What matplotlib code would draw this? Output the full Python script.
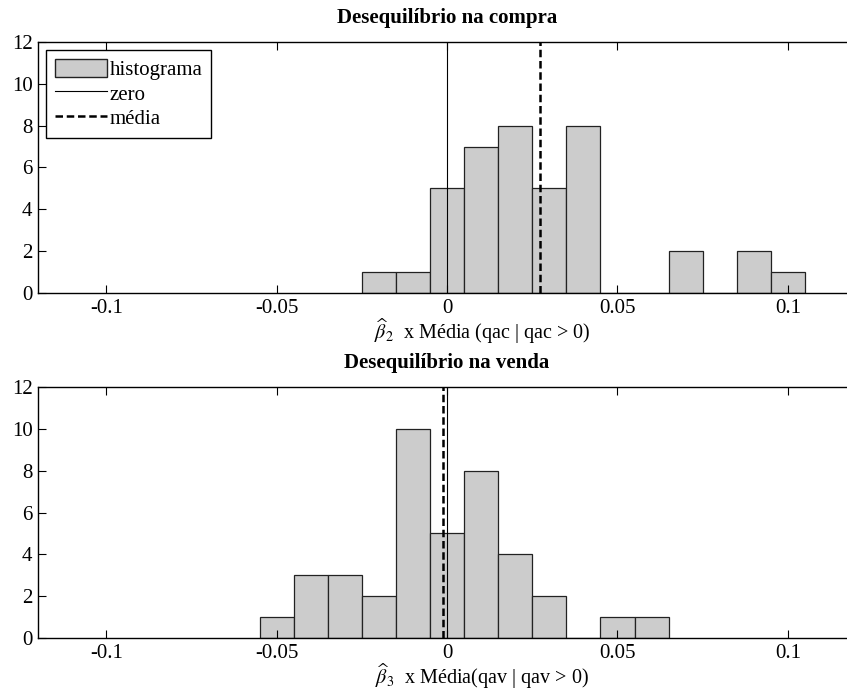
import numpy as np
import matplotlib
matplotlib.use("Agg")
import matplotlib.pyplot as plt
from matplotlib.patches import Patch
from matplotlib.lines import Line2D

plt.rcParams['font.family'] = ['Liberation Serif', 'DejaVu Serif']
plt.rcParams['mathtext.fontset'] = 'stix'

# bin centres (width 0.01) and counts
centers_compra = [-0.02, -0.01, 0.0, 0.01, 0.02, 0.03, 0.04, 0.05, 0.06, 0.07, 0.08, 0.09, 0.10]
counts_compra = [1, 1, 5, 7, 8, 5, 8, 0, 0, 2, 0, 2, 1]
media_compra = 0.0272

centers_venda = [-0.05, -0.04, -0.03, -0.02, -0.01, 0.0, 0.01, 0.02, 0.03, 0.04, 0.05, 0.06]
counts_venda = [1, 3, 3, 2, 10, 5, 8, 4, 2, 0, 1, 1]
media_venda = -0.0011

titles = ["Desequilíbrio na compra", "Desequilíbrio na venda"]
xlabels = [r"$\widehat{\beta}_2$  x Média (qac | qac > 0)",
           r"$\widehat{\beta}_3$  x Média(qav | qav > 0)"]
xticks = [-0.1, -0.05, 0, 0.05, 0.1]
xticklabels = ["-0.1", "-0.05", "0", "0.05", "0.1"]
yticks = [0, 2, 4, 6, 8, 10, 12]

fig = plt.figure(figsize=(8.47, 6.92), dpi=100)
positions = [[0.0449, 0.5766, 0.9658, 0.3627], [0.0449, 0.0780, 0.9658, 0.3627]]
data = [(centers_compra, counts_compra, media_compra),
        (centers_venda, counts_venda, media_venda)]

for i, (pos, (c, n, m)) in enumerate(zip(positions, data)):
    ax = fig.add_axes(pos)
    ax.bar(c, n, width=0.01, color='#cccccc', edgecolor='#222222', linewidth=0.9)
    ax.axvline(0, color='black', linewidth=0.8)
    ax.axvline(m, color='black', linewidth=1.8, linestyle=(0, (3, 1.5)))
    ax.set_xlim(-0.12, 0.12)
    ax.set_ylim(0, 12)
    ax.set_xticks(xticks)
    ax.set_xticklabels(xticklabels)
    ax.set_yticks(yticks)
    ax.tick_params(direction='in', length=6, labelsize=15, top=True, right=True,
                   pad=4)
    for s in ax.spines.values():
        s.set_linewidth(1.0)
    ax.set_title(titles[i], fontsize=15, fontweight='bold', pad=14)
    ax.set_xlabel(xlabels[i], fontsize=14.5)
    ax.xaxis.set_label_coords(0.543, -0.092)
    if i == 0:
        handles = [Patch(facecolor='#cccccc', edgecolor='#222222', label='histograma'),
                   Line2D([], [], color='black', linewidth=0.8, label='zero'),
                   Line2D([], [], color='black', linewidth=1.8, linestyle=(0, (3, 1.5)),
                          label='média')]
        leg = ax.legend(handles=handles, loc='upper left', fontsize=15, fancybox=False,
                        edgecolor='black', framealpha=1, borderaxespad=0.4,
                        handlelength=2.5, handleheight=1.0, handletextpad=0.15,
                        labelspacing=0.15, borderpad=0.4)
        leg.get_frame().set_linewidth(1.0)

fig.savefig("out.png", dpi=100)
